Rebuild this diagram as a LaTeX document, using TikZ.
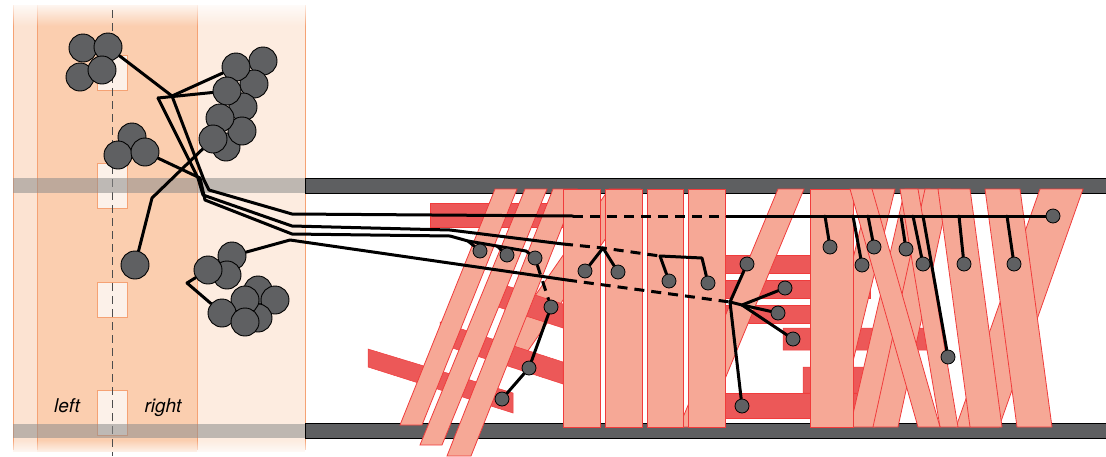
\documentclass[tikz,border=0pt]{standalone}
\usepackage{fontspec}
\setsansfont{TeX Gyre Heros}
\usetikzlibrary{fadings}

\definecolor{peach}{HTML}{FBCEAF}
\definecolor{peachpale}{HTML}{FDECE0}
\definecolor{peachside}{HTML}{FCE3D2}
\definecolor{peachline}{HTML}{F5A274}
\definecolor{slotfill}{HTML}{FCF1E9}
\definecolor{membrane}{HTML}{5E5F61}
\definecolor{salmon}{HTML}{F6A896}
\definecolor{barline}{HTML}{F03C3C}
\definecolor{bandred}{HTML}{EC5858}
\definecolor{beadgray}{HTML}{5F6062}

\tikzfading[name=fadetop, top color=transparent!0, bottom color=transparent!100]
\tikzfading[name=fadebottom, top color=transparent!100, bottom color=transparent!0]

\pgfdeclarelayer{front}
\pgfsetlayers{main,front}

\tikzset{
  ball/.style={circle,draw=black,line width=0.9pt,fill=beadgray,minimum size=28pt,inner sep=0pt},
  bead/.style={circle,draw=black,line width=0.8pt,fill=beadgray,minimum size=14pt,inner sep=0pt},
  wire/.style={line width=3pt,line join=round,line cap=round},
  dashwire/.style={line width=3pt,dash pattern=on 10pt off 7pt},
  lightbar/.style={fill=salmon,draw=barline,line width=0.8pt},
  darkband/.style={fill=bandred,draw=barline,line width=0.5pt},
  slot/.style={fill=slotfill,draw=peachline,line width=1pt},
  panelline/.style={draw=peachline,line width=0.8pt},
  membranebar/.style={fill=membrane,draw=black,line width=0.8pt},
  sidetext/.style={font=\sffamily\itshape\fontsize{19}{22}\selectfont,inner sep=0pt,anchor=base}
}

\newcommand{\slantbar}[4]{\filldraw[lightbar] (#1,189) -- (#2,189) -- (#4,427) -- (#3,427) -- cycle;}

\begin{document}
\begin{tikzpicture}[x=1pt,y=-1pt]
   \useasboundingbox (0,0) rectangle (1106,456);

   % Left panel
   \fill[peachpale] (13,5) rectangle (305,452);
   \fill[peachside] (13,5) rectangle (37,452);
   \fill[peach] (37,5) rectangle (197,452);
   \draw[panelline] (13,5) -- (13,450);
   \draw[panelline] (37,5) -- (37,450);
   \draw[panelline] (197,5) -- (197,450);
   \draw[panelline] (305,5) -- (305,450);
   \fill[white,path fading=fadetop] (0,0) rectangle (320,26);
   \fill[white,path fading=fadebottom] (0,440) rectangle (320,456);

   \filldraw[slot] (97,55) rectangle (127,90);
   \filldraw[slot] (97,163) rectangle (127,208);
   \filldraw[slot] (97,282) rectangle (127,317);
   \filldraw[slot] (97,390) rectangle (127,435);
   \draw[black!70,line width=1pt,dash pattern=on 8pt off 5pt] (112,10) -- (112,456);

   \node[sidetext] (lleft) at (67,412) {left};
   \node[sidetext] (lright) at (163,412) {right};

   % membranes
   \fill[black!45,opacity=0.55] (13,178) rectangle (305,193);
   \fill[black!45,opacity=0.55] (13,424) rectangle (305,438);
   \filldraw[membranebar] (305,178) rectangle (1110,193);
   \filldraw[membranebar] (305,423) rectangle (1110,438);

   % bars, left group
   \filldraw[lightbar] (609,189) -- (640,189) -- (525,355) -- (494,355) -- cycle;
   \filldraw[darkband] (430,203) rectangle (563,227);
   \filldraw[darkband] (368,349) -- (513,393) -- (513,413) -- (368,367) -- cycle;
   \filldraw[darkband] (440,322) -- (563,362) -- (563,384) -- (440,344) -- cycle;
   \filldraw[darkband] (495,282) -- (563,304) -- (563,328) -- (495,306) -- cycle;

   \filldraw[lightbar] (495,189) -- (517,189) -- (422,425) -- (400,425) -- cycle;
   \filldraw[lightbar] (525,189) -- (547,189) -- (442,445) -- (420,445) -- cycle;
   \filldraw[lightbar] (553,189) -- (577,189) -- (471,456) -- (447,456) -- cycle;

   % bars, right group
   \filldraw[darkband] (715,255) rectangle (880,273);
   \filldraw[darkband] (715,280) rectangle (870,298);
   \filldraw[darkband] (715,305) rectangle (860,323);
   \filldraw[darkband] (783,328) -- (942,328) -- (934,350) -- (783,350) -- cycle;
   \filldraw[darkband] (803,367) -- (912,367) -- (902,393) -- (803,393) -- cycle;
   \filldraw[darkband] (715,393) rectangle (862,418);

   \slantbar{778}{804}{679}{705}
   \filldraw[lightbar] (563,189) rectangle (600,427);
   \filldraw[lightbar] (605,189) rectangle (642,427);
   \filldraw[lightbar] (647,189) rectangle (683,427);
   \filldraw[lightbar] (688,189) rectangle (725,427);

   \slantbar{1040}{1083}{956}{999}
   \slantbar{870}{895}{812}{837}
   \slantbar{905}{930}{850}{875}
   \slantbar{925}{950}{873}{898}
   \filldraw[lightbar] (810,189) rectangle (853,427);
   \slantbar{900}{918}{940}{958}
   \slantbar{850}{872}{918}{940}
   \slantbar{938}{970}{970}{1002}
   \slantbar{985}{1020}{1017}{1052}

   \begin{pgfonlayer}{front}
      % clusters in the left panel
      \node[ball] (a1) at (83,48) {};
      \node[ball] (a2) at (108,47) {};
      \node[ball] (a3) at (80,77) {};
      \node[ball] (a4) at (102,70) {};
      \node[ball] (b1) at (132,137) {};
      \node[ball] (b2) at (118,155) {};
      \node[ball] (b3) at (145,152) {};
      \node[ball] (s1) at (135,265) {};

      \node[ball] (c1) at (263,61) {};
      \node[ball] (c3) at (254,84) {};
      \node[ball] (c2) at (236,67) {};
      \node[ball] (c5) at (243,107) {};
      \node[ball] (c4) at (227,91) {};
      \node[ball] (c8) at (226,147) {};
      \node[ball] (c7) at (242,131) {};
      \node[ball] (c6) at (220,118) {};
      \node[ball] (c9) at (213,139) {};

      \node[ball] (d1) at (232,256) {};
      \node[ball] (d3) at (227,275) {};
      \node[ball] (d2) at (208,270) {};
      \node[ball] (d4) at (258,290) {};
      \node[ball] (d5) at (275,300) {};
      \node[ball] (d8) at (258,318) {};
      \node[ball] (d6) at (245,300) {};
      \node[ball] (d7) at (222,313) {};
      \node[ball] (d9) at (245,322) {};

      % beads on the right
      \node[bead] (n1) at (480,251) {};
      \node[bead] (n2) at (507,255) {};
      \node[bead] (n3) at (535,258) {};
      \node[bead] (n4) at (551,307) {};
      \node[bead] (n5) at (529,368) {};
      \node[bead] (n6) at (502,399) {};
      \node[bead] (m1) at (585,271) {};
      \node[bead] (m2) at (618,272) {};
      \node[bead] (m3) at (669,281) {};
      \node[bead] (m4) at (708,283) {};
      \node[bead] (q1) at (747,264) {};
      \node[bead] (q2) at (785,288) {};
      \node[bead] (q3) at (778,313) {};
      \node[bead] (q4) at (793,339) {};
      \node[bead] (q5) at (742,406) {};
      \node[bead] (r1) at (830,247) {};
      \node[bead] (r2) at (862,265) {};
      \node[bead] (r3) at (874,247) {};
      \node[bead] (r4) at (906,249) {};
      \node[bead] (r5) at (923,264) {};
      \node[bead] (r6) at (948,357) {};
      \node[bead] (r7) at (964,264) {};
      \node[bead] (r8) at (1014,264) {};
      \node[bead] (rend) at (1053,216) {};
   \end{pgfonlayer}

   % wires
   \coordinate (p1) at (172,96);
   \coordinate (p2) at (158,98);
   \draw[wire] (a2) -- (p1) -- (c2);
   \draw[wire] (p2) -- (c4);
   \coordinate (j1) at (152,198);
   \draw[wire] (c9) -- (j1) -- (s1);
   \coordinate (j2) at (187,283);
   \draw[wire] (d2) -- (j2) -- (d7);

   % top line
   \coordinate (t0) at (292,214);
   \coordinate (t1) at (573,216);
   \coordinate (t2) at (727,216);
   \draw[wire] (p1) -- (204,180) -- (209,190) -- (t0) -- (t1);
   \draw[dashwire] (t1) -- (t2);
   \draw[wire] (t2) -- (rend);
   \coordinate (k1) at (825,216);
   \coordinate (k2) at (853,216);
   \coordinate (k3) at (868,216);
   \coordinate (k4) at (901,216);
   \coordinate (k5) at (913,216);
   \coordinate (k6) at (923,216);
   \coordinate (k7) at (959,216);
   \coordinate (k8) at (1007,216);
   \draw[wire] (k1) -- (r1);
   \draw[wire] (k2) -- (r2);
   \draw[wire] (k3) -- (r3);
   \draw[wire] (k4) -- (r4);
   \draw[wire] (k5) -- (r5);
   \draw[wire] (k6) -- (r6);
   \draw[wire] (k7) -- (r7);
   \draw[wire] (k8) -- (r8);

   % second line
   \coordinate (u0) at (292,226);
   \coordinate (u1) at (563,244);
   \coordinate (u2) at (603,248);
   \coordinate (u3) at (660,256);
   \draw[wire] (p2) -- (198,178) -- (203,195) -- (u0) -- (450,230) -- (u1);
   \draw[dashwire] (u1) -- (u2) -- (u3);
   \draw[wire] (u3) -- (702,258) -- (m4);
   \draw[wire] (u3) -- (m3);
   \draw[wire] (u2) -- (m1);
   \draw[wire] (u2) -- (m2);

   % third line
   \coordinate (w0) at (292,234);
   \coordinate (w1) at (468,241);
   \coordinate (w2) at (497,246);
   \coordinate (w3) at (526,251);
   \draw[wire] (b3) -- (200,178) -- (205,200) -- (w0) -- (450,236) -- (w1) -- (w2) -- (w3) -- (n3);
   \draw[wire] (w1) -- (n1);
   \draw[wire] (w2) -- (n2);
   \draw[dashwire] (n3) -- (n4);
   \draw[wire] (n4) -- (n5) -- (n6);

   % bottom line
   \coordinate (v0) at (290,240);
   \coordinate (v1) at (567,280);
   \coordinate (v2) at (730,302);
   \coordinate (v3) at (742,305);
   \draw[wire] (d1) -- (v0) -- (v1);
   \draw[dashwire] (v1) -- (v2);
   \draw[wire] (v2) -- (q1);
   \draw[wire] (v2) -- (q5);
   \draw[wire] (v2) -- (v3) -- (q2);
   \draw[wire] (v3) -- (q3);
   \draw[wire] (v3) -- (q4);
\end{tikzpicture}
\end{document}
